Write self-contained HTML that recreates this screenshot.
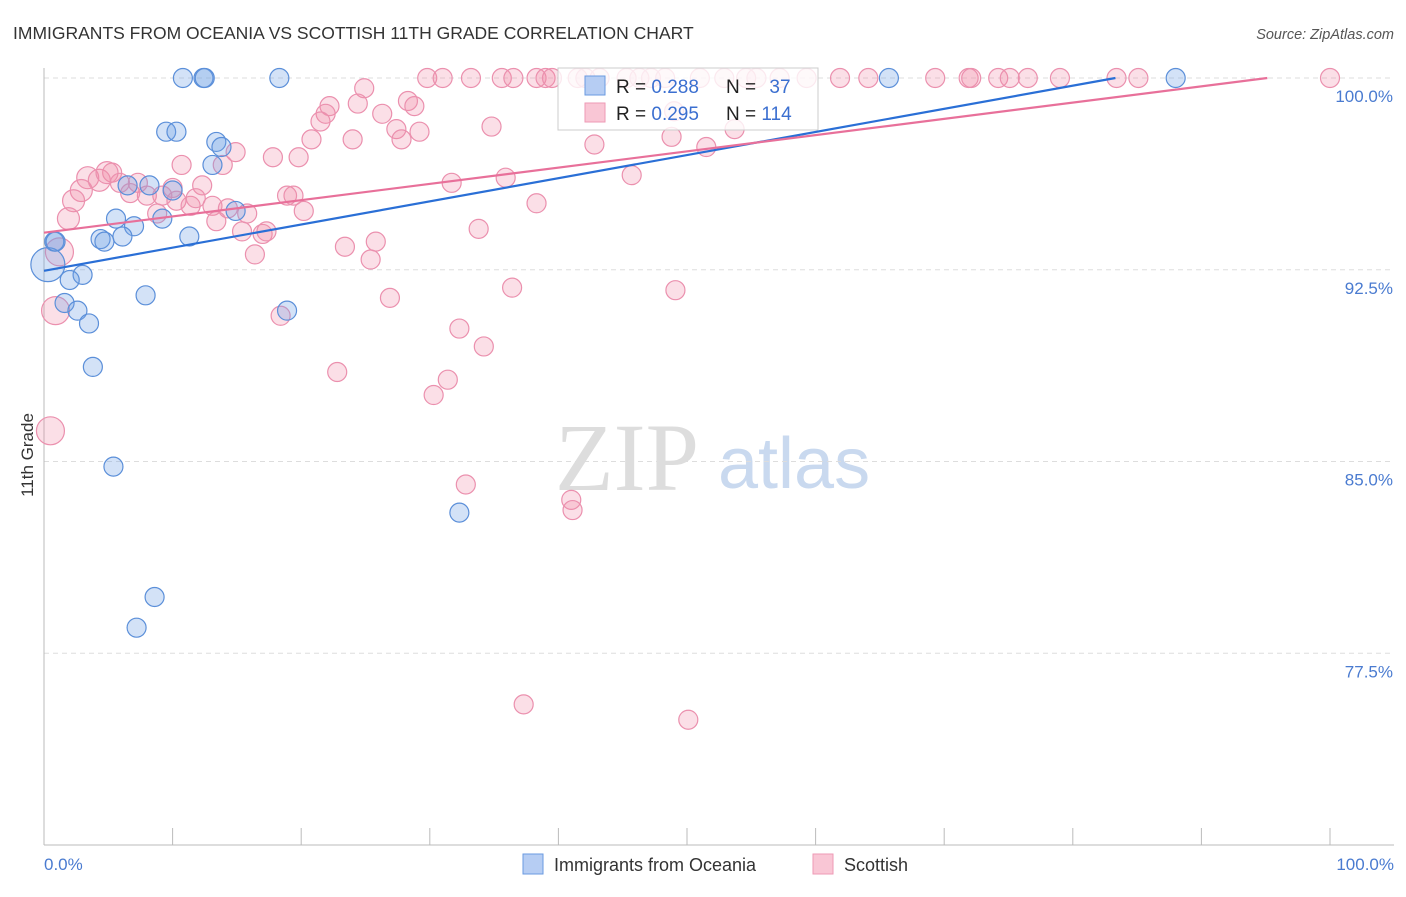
<!DOCTYPE html>
<html><head><meta charset="utf-8"><style>
body{margin:0;background:#fff;font-family:"Liberation Sans",sans-serif;}
svg text{font-family:"Liberation Sans",sans-serif;}
</style></head><body>
<svg id="chart" width="1406" height="892" xmlns="http://www.w3.org/2000/svg">
<text x="13" y="39" font-size="17.5" fill="#333">IMMIGRANTS FROM OCEANIA VS SCOTTISH 11TH GRADE CORRELATION CHART</text>
<text x="1394" y="39" font-size="14.5" fill="#555" text-anchor="end" font-style="italic">Source: ZipAtlas.com</text>
<g>
<text x="555" y="490" font-size="96" fill="#ddd" font-family="Liberation Serif" style="font-family:'Liberation Serif',serif">ZIP</text>
<text x="718" y="488" font-size="72" fill="#c9d9ef">atlas</text>
</g>
<g id="grid"></g>
<g id="axes"></g>
<g id="pts"></g>
<g id="lines"></g>
<text transform="translate(33,455) rotate(-90)" font-size="17" fill="#333" text-anchor="middle">11th Grade</text>
<g>
<rect x="558" y="68" width="260" height="62" fill="#fff" fill-opacity="0.8" stroke="#ccc"/>
<rect x="585" y="76" width="20" height="19" fill="#b6cdf3" stroke="#6a9ae0"/>
<rect x="585" y="103" width="20" height="19" fill="#f9c6d5" stroke="#ee9ab5"/>
<text x="616" y="93" font-size="19" fill="#222">R = <tspan fill="#3b6fd0">0.288</tspan></text>
<text x="726" y="93" font-size="19" fill="#222">N = <tspan fill="#3b6fd0" dx="8">37</tspan></text>
<text x="616" y="120" font-size="19" fill="#222">R = <tspan fill="#3b6fd0">0.295</tspan></text>
<text x="726" y="120" font-size="19" fill="#222">N = <tspan fill="#3b6fd0">114</tspan></text>
</g>
<g>
<rect x="523" y="854" width="20" height="20" fill="#b6cdf3" stroke="#6a9ae0"/>
<text x="554" y="871" font-size="18" fill="#333">Immigrants from Oceania</text>
<rect x="813" y="854" width="20" height="20" fill="#f9c6d5" stroke="#ee9ab5"/>
<text x="844" y="871" font-size="18" fill="#333">Scottish</text>
</g>
</svg>
<script>
const yTicks=[100,92.5,85,77.5];
const yTickLabels=["100.0%","92.5%","85.0%","77.5%"];
const xTickLabels=["0.0%","100.0%"];
const blueX=[10.8,12.4,12.5,18.3,88.0,65.7,9.5,10.3,13.4,13.8,13.1,6.5,8.2,10.0,5.6,9.2,14.9,7.0,11.3,4.4,4.7,6.1,0.8,0.3,3.0,2.0,1.6,2.6,3.5,7.9,18.9,3.8,5.4,8.6,7.2,32.3,0.9];
const blueY=[100,100,100,100,100,100,97.9,97.9,97.5,97.3,96.6,95.8,95.8,95.6,94.5,94.5,94.8,94.2,93.8,93.7,93.6,93.8,93.6,92.7,92.3,92.1,91.2,90.9,90.4,91.5,90.9,88.7,84.8,79.7,78.5,83.0,93.6];
const blueBig=[23];
const pinkTopX=[29.8,31.0,33.2,35.6,36.5,38.3,39.0,39.5,41.5,42.1,43.2,45.3,46.3,47.2,48.3,51.0,52.9,54.6,55.4,57.2,59.3,61.9,64.1,69.3,71.9,72.1,74.2,75.1,76.5,79.0,83.4,85.1,100];
const pinkX=[24.9,22.2,21.9,28.3,28.8,26.3,21.5,24.4,34.8,27.4,29.2,27.8,24.0,20.8,49.0,53.7,48.8,42.8,51.5,14.9,17.8,19.8,10.7,13.9,45.7,31.7,35.9,38.3,5.3,3.4,4.3,4.9,5.9,7.3,2.9,2.3,1.9,12.3,8.0,9.2,6.7,10.0,10.3,11.4,13.1,14.3,15.8,18.9,19.4,8.8,11.8,20.2,13.4,15.4,17.0,17.3,16.4,23.4,25.8,25.4,33.8,26.9,18.4,36.4,49.1,22.8,32.3,34.2,30.3,31.4,32.8,41.0,41.1,37.3,50.1,0.5,0.9,1.2];
const pinkY=[99.6,98.9,98.6,99.1,98.9,98.6,98.3,99.0,98.1,98.0,97.9,97.6,97.6,97.6,98.7,98.0,97.7,97.4,97.3,97.1,96.9,96.9,96.6,96.6,96.2,95.9,96.1,95.1,96.3,96.1,96.0,96.3,95.9,95.9,95.6,95.2,94.5,95.8,95.4,95.4,95.5,95.7,95.2,95.0,95.0,94.9,94.7,95.4,95.4,94.7,95.3,94.8,94.4,94.0,93.9,94.0,93.1,93.4,93.6,92.9,94.1,91.4,90.7,91.8,91.7,88.5,90.2,89.5,87.6,88.2,84.1,83.5,83.1,75.5,74.9,86.2,90.9,93.2];
const trendIntercepts=[92.46,93.95];
const trendSlopes=[0.0905,0.0636];

const X0=44,X1=1330,Y0=845,Y1=78,YMIN=70,YMAX=100;
const sx=v=>X0+(X1-X0)*v/100;
const sy=v=>Y0-(Y0-Y1)*(v-YMIN)/(YMAX-YMIN);
const NS="http://www.w3.org/2000/svg";
function mk(tag,attrs,parent){const e=document.createElementNS(NS,tag);for(const k in attrs)e.setAttribute(k,attrs[k]);parent.appendChild(e);return e;}
const grid=document.getElementById('grid'),axes=document.getElementById('axes'),pts=document.getElementById('pts'),lines=document.getElementById('lines');
yTicks.forEach((t,i)=>{
 const l=mk('line',{x1:X0,x2:1394,y1:sy(t),y2:sy(t),stroke:'#ddd','stroke-dasharray':'5,4'},grid);
 
 
 const tx=mk('text',{x:1393,y:sy(t)+24,'font-size':17,fill:'#4a7bd0','text-anchor':'end'},grid);
 tx.textContent=yTickLabels[i];
 
 
});
const ax=mk('line',{x1:X0,x2:1394,y1:Y0,y2:Y0,stroke:'#bbb'},axes);


const ay=mk('line',{x1:X0,x2:X0,y1:68,y2:Y0,stroke:'#bbb'},axes);


for(let i=0;i<=10;i++){
 const t=mk('line',{x1:sx(i*10),x2:sx(i*10),y1:Y0,y2:Y0-17,stroke:'#bbb'},axes);
 
 
}
[[0,'start',44],[100,'end',1394]].forEach((d,i)=>{
 const t=mk('text',{x:d[2],y:870,'font-size':17,fill:'#4a7bd0','text-anchor':d[1]},axes);
 t.textContent=xTickLabels[i];
 
 
});
function dot(x,y,r,blue){
 const c=mk('circle',{cx:sx(x),cy:sy(y),r:r,fill:blue?'rgba(110,160,230,0.3)':'rgba(240,140,170,0.28)',stroke:blue?'#5b8fd9':'#eb90ae','stroke-width':1.2},pts);
 
 
}
pinkTopX.forEach(x=>dot(x,100,9.5,false));
pinkX.forEach((x,i)=>dot(x,pinkY[i],i>=pinkX.length-3?14:(x<5?11:9.5),false));
blueX.forEach((x,i)=>dot(x,blueY[i],blueBig.includes(i)?17:9.5,true));
trendIntercepts.forEach((b,i)=>{
 const m=trendSlopes[i];const xe=Math.min(100,(100-b)/m);
 const l=mk('line',{x1:sx(0),y1:sy(b),x2:sx(xe),y2:sy(b+m*xe),stroke:i===0?'#2a6fd6':'#e8709a','stroke-width':2.2},lines);
 
 
});
</script>
</body></html>
